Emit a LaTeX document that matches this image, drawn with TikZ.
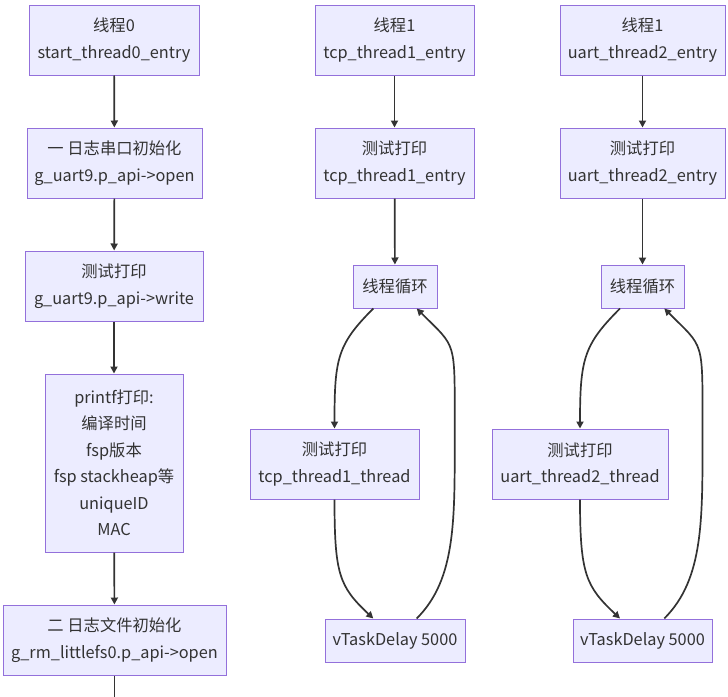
\documentclass[tikz,border=0pt]{standalone}
\usepackage{fontspec}
\setmainfont{Noto Sans CJK SC}
\usetikzlibrary{arrows.meta}
\definecolor{mfill}{HTML}{ECECFF}
\definecolor{mborder}{HTML}{9370DB}
\definecolor{mline}{HTML}{333333}
\tikzset{
  box/.style={draw=mborder, fill=mfill, line width=1pt, align=center, inner sep=0pt,
    text=mline, font={\fontsize{16.3}{26.5}\selectfont}},
  conn/.style={draw=mline, line width=1.7pt, -{Triangle[length=7pt,width=7pt]}},
}
\begin{document}
\begin{tikzpicture}[x=1pt,y=-1pt]
\useasboundingbox (0,0) rectangle (728,696);
% column 1
\node[box, minimum width=170, minimum height=70] (A) at (114,40) {线程0\\start\_thread0\_entry};
\node[box, minimum width=175, minimum height=70] (B) at (114.5,163) {一 日志串口初始化\\g\_uart9.p\_api->open};
\node[box, minimum width=178, minimum height=70] (C) at (114,286) {测试打印\\g\_uart9.p\_api->write};
\node[box, minimum width=138, minimum height=178] (D) at (114,463) {printf打印:\\编译时间\\fsp版本\\fsp stackheap等\\uniqueID\\MAC};
\node[box, minimum width=223, minimum height=70] (E) at (114.5,640) {二 日志文件初始化\\g\_rm\_littlefs0.p\_api->open};
\coordinate (Eout) at (114.5,700);
% column 2
\node[box, minimum width=159, minimum height=70] (F) at (394.5,40) {线程1\\tcp\_thread1\_entry};
\node[box, minimum width=159, minimum height=70] (G) at (394.5,163) {测试打印\\tcp\_thread1\_entry};
\node[box, minimum width=84, minimum height=43] (H) at (395,286.5) {线程循环};
\node[box, minimum width=169, minimum height=70] (I) at (334.5,464) {测试打印\\tcp\_thread1\_thread};
\node[box, minimum width=140, minimum height=43] (J) at (395,640.5) {vTaskDelay 5000};
% column 3
\node[box, minimum width=165, minimum height=70] (K) at (642.5,40) {线程1\\uart\_thread2\_entry};
\node[box, minimum width=165, minimum height=70] (L) at (642.5,163) {测试打印\\uart\_thread2\_entry};
\node[box, minimum width=83, minimum height=43] (M) at (642.5,286.5) {线程循环};
\node[box, minimum width=176, minimum height=70] (N) at (580,464) {测试打印\\uart\_thread2\_thread};
\node[box, minimum width=139, minimum height=43] (O) at (642.5,640.5) {vTaskDelay 5000};
% straight connectors
\draw[conn] (A) -- (B);
\draw[conn] (B) -- (C);
\draw[conn] (C) -- (D);
\draw[conn] (D) -- (E);
\draw[draw=mline, line width=1.7pt] (E.south) -- (Eout);
\draw[conn] (F) -- (G);
\draw[conn] (G) -- (H);
\draw[conn] (K) -- (L);
\draw[conn] (L) -- (M);
% loop column 2
\draw[conn] ([xshift=-21.7]H.south) .. controls +(-36,36) and +(0,-70) .. (I.north);
\draw[conn] (I.south) .. controls +(0,75) and +(-34,-32) .. ([xshift=-21.7]J.north);
\draw[conn] ([xshift=21.7]J.north) .. controls +(40,-40) and +(0,90) .. ([xshift=59.7]H.south |- I.north)
  .. controls +(0,-90) and +(40,40) .. ([xshift=21.7]H.south);
% loop column 3
\draw[conn] ([xshift=-22.5]M.south) .. controls +(-36,36) and +(0,-70) .. (N.north);
\draw[conn] (N.south) .. controls +(0,75) and +(-34,-32) .. ([xshift=-22.5]O.north);
\draw[conn] ([xshift=21.8]O.north) .. controls +(40,-40) and +(0,90) .. ([xshift=60]M.south |- N.north)
  .. controls +(0,-90) and +(40,40) .. ([xshift=21.8]M.south);
\end{tikzpicture}
\end{document}
